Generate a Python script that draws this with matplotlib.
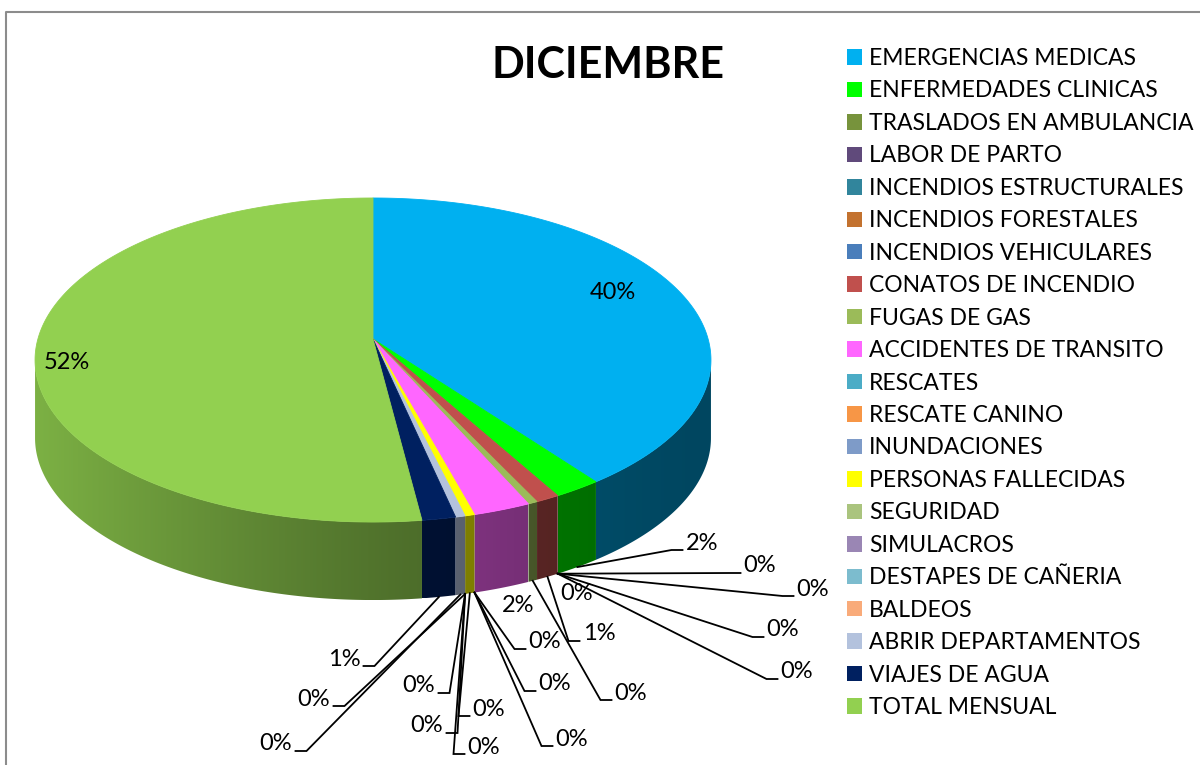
import numpy as np
import matplotlib
matplotlib.use("Agg")
import matplotlib.pyplot as plt
from matplotlib.colors import to_rgb
from matplotlib.patches import Patch, Polygon

plt.rcParams["font.family"] = ["Lato", "DejaVu Sans"]

categorias = [
    "EMERGENCIAS MEDICAS", "ENFERMEDADES CLINICAS", "TRASLADOS EN AMBULANCIA",
    "LABOR DE PARTO", "INCENDIOS ESTRUCTURALES", "INCENDIOS FORESTALES",
    "INCENDIOS VEHICULARES", "CONATOS DE INCENDIO", "FUGAS DE GAS",
    "ACCIDENTES DE TRANSITO", "RESCATES", "RESCATE CANINO", "INUNDACIONES",
    "PERSONAS FALLECIDAS", "SEGURIDAD", "SIMULACROS", "DESTAPES DE CAÑERIA",
    "BALDEOS", "ABRIR DEPARTAMENTOS", "VIAJES DE AGUA", "TOTAL MENSUAL",
]
servicios = [196, 10, 0, 0, 0, 0, 0, 5, 2, 12, 0, 0, 0, 2, 0, 0, 0, 0, 2, 7, 256]
colores = [
    "#00B0F0", "#00FF00", "#77933C", "#604A7B", "#31859C", "#C3722F",
    "#4A7EBB", "#C0504D", "#9BBB59", "#FF66FF", "#4BACC6", "#F79646",
    "#7E9BC8", "#FFFF00", "#AAC47E", "#9A86B4", "#7CBCCE", "#F9AB7A",
    "#B3C2DD", "#002060", "#92D050",
]

# donde va cada porcentaje (pixeles) y de que lado llega la linea guia
etiqueta_xy = [
    (613, 290), (702, 541), (760, 564), (813, 587), (783, 628), (797, 670),
    (577, 592), (599, 632), (631, 691), (518, 604), (545, 640), (555, 682),
    (572, 737), (489, 707), (484, 745), (427, 724), (419, 684), (314, 697),
    (276, 742), (344, 657), (67, 360),
]
etiqueta_lado = [
    None, "L", "L", "L", "L", "L", None, "L", "L", None, "L", "L", "L",
    "L", "L", "R", "R", "R", "R", "R", None,
]

W, H = 1200, 765
CX, CY = 373, 339            # centro del pastel en pantalla
A, B, P = 335.1, 159.3, 0.1297  # radios y perspectiva
PROF = 78                    # grosor del pastel


def proyectar(theta):
    # theta en grados, sentido horario desde las 12
    t = np.radians(theta)
    u, v = np.sin(t), -np.cos(t)
    w = 1 - P * v
    return CX + A * u / w, CY + B * v / w


def sombra(x):
    xn = np.clip((x - CX) / 338, -1, 1)
    return 0.4 + 0.45 * ((1 - xn) / 2) ** 1.5


def main():
    fig = plt.figure(figsize=(W / 100, H / 100), dpi=100)
    ax = fig.add_axes([0, 0, 1, 1])
    ax.axis("off")

    total = sum(servicios)
    bordes = np.concatenate([[0], np.cumsum(servicios)]) / total * 360

    # costado visible, con degradado de luz
    lim = np.degrees(np.arccos(-P))
    for i, c in enumerate(colores):
        a, b = max(bordes[i], lim), min(bordes[i + 1], 360 - lim)
        if b <= a:
            continue
        x, y = proyectar(np.linspace(a, b, max(3, int((b - a) * 2))))
        xs = np.r_[x, x[::-1]]
        ys = np.r_[y, y[::-1] + PROF]
        cols = np.linspace(xs.min(), xs.max(), int(xs.max() - xs.min()) + 2)
        img = np.array(to_rgb(c))[None, None, :] * sombra(cols)[None, :, None]
        im = ax.imshow(img, extent=(cols[0], cols[-1], ys.max(), ys.min()),
                       aspect="auto", interpolation="bilinear", zorder=2)
        im.set_clip_path(Polygon(np.c_[xs, ys], closed=True,
                                 transform=ax.transData))

    # cara superior
    for i, c in enumerate(colores):
        a, b = bordes[i], bordes[i + 1]
        if b - a <= 0:
            continue
        x, y = proyectar(np.linspace(a, b, max(2, int((b - a) * 2))))
        ax.fill(np.r_[CX, x], np.r_[CY, y], color=c, ec=c, lw=0.6, zorder=3)

    # porcentajes y lineas guia
    for i, (pos, lado) in enumerate(zip(etiqueta_xy, etiqueta_lado)):
        pct = f"{100 * servicios[i] / total:.0f}%"
        ax.text(pos[0], pos[1] + 8.5, pct, ha="center", va="baseline",
                fontsize=17, zorder=5)
        if lado is None:
            continue
        x0, y0 = proyectar((bordes[i] + bordes[i + 1]) / 2)
        y0 += PROF
        sgn = -1 if lado == "L" else 1
        xf = pos[0] + sgn * 19.5
        yf = pos[1] + 9
        ax.plot([x0, xf + sgn * 11, xf], [y0, yf, yf], color="black",
                lw=1.3, zorder=4, solid_joinstyle="miter")

    ax.text(608, 78, "DICIEMBRE", ha="center", va="baseline",
            fontsize=31, fontweight="bold")

    handles = [Patch(facecolor=c, edgecolor="none") for c in colores]
    ax.legend(handles, categorias, loc="upper left",
              bbox_to_anchor=(847 / W, 1 - 48 / H),
              bbox_transform=fig.transFigure, frameon=False, fontsize=16.5,
              handlelength=0.66, handleheight=0.66, handletextpad=0.3,
              labelspacing=0.50, borderpad=0, borderaxespad=0)

    # borde del grafico
    ax.plot([5.5, 5.5, W], [H, 11.5, 11.5], color="#8c8c8c", lw=1.5)

    ax.set_xlim(0, W)
    ax.set_ylim(H, 0)
    fig.savefig("out.png", dpi=100)


if __name__ == "__main__":
    main()
